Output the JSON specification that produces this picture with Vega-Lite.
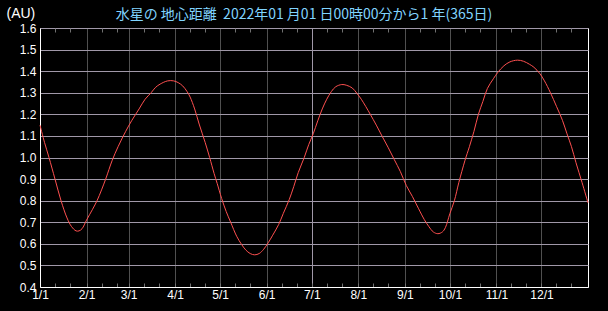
{
  "$schema": "https://vega.github.io/schema/vega-lite/v6.json",
  "width": 548,
  "height": 259,
  "autosize": {"type": "none"},
  "padding": {"left": 40, "top": 28, "right": 20, "bottom": 24},
  "background": "#000000",
  "config": {"view": {"stroke": "#ffffff", "strokeWidth": 1}},
  "title": {
    "text": "水星の 地心距離 \u00a02022年01 月01 日00時00分から1 年(365日)",
    "color": "#80d4ff",
    "font": "Noto Sans CJK JP",
    "fontSize": 14,
    "fontWeight": "normal",
    "anchor": "middle",
    "frame": "group",
    "dx": -10,
    "offset": -16
  },
  "data": {"values": [
    {"date": "2022-01-01", "au": 1.15},
    {"date": "2022-01-04", "au": 1.07},
    {"date": "2022-01-07", "au": 1.00},
    {"date": "2022-01-11", "au": 0.90},
    {"date": "2022-01-15", "au": 0.80},
    {"date": "2022-01-19", "au": 0.72},
    {"date": "2022-01-22", "au": 0.68},
    {"date": "2022-01-25", "au": 0.66},
    {"date": "2022-01-27", "au": 0.66},
    {"date": "2022-01-29", "au": 0.67},
    {"date": "2022-02-01", "au": 0.71},
    {"date": "2022-02-05", "au": 0.76},
    {"date": "2022-02-08", "au": 0.80},
    {"date": "2022-02-11", "au": 0.85},
    {"date": "2022-02-14", "au": 0.905},
    {"date": "2022-02-18", "au": 0.985},
    {"date": "2022-02-22", "au": 1.05},
    {"date": "2022-02-27", "au": 1.12},
    {"date": "2022-03-03", "au": 1.17},
    {"date": "2022-03-08", "au": 1.225},
    {"date": "2022-03-12", "au": 1.27},
    {"date": "2022-03-16", "au": 1.30},
    {"date": "2022-03-19", "au": 1.325},
    {"date": "2022-03-22", "au": 1.34},
    {"date": "2022-03-27", "au": 1.355},
    {"date": "2022-03-31", "au": 1.355},
    {"date": "2022-04-03", "au": 1.347},
    {"date": "2022-04-06", "au": 1.332},
    {"date": "2022-04-09", "au": 1.305},
    {"date": "2022-04-11", "au": 1.28},
    {"date": "2022-04-14", "au": 1.225},
    {"date": "2022-04-17", "au": 1.155},
    {"date": "2022-04-21", "au": 1.07},
    {"date": "2022-04-24", "au": 1.0},
    {"date": "2022-04-27", "au": 0.925},
    {"date": "2022-04-29", "au": 0.88},
    {"date": "2022-05-02", "au": 0.81},
    {"date": "2022-05-05", "au": 0.75},
    {"date": "2022-05-08", "au": 0.70},
    {"date": "2022-05-12", "au": 0.635},
    {"date": "2022-05-15", "au": 0.60},
    {"date": "2022-05-18", "au": 0.572},
    {"date": "2022-05-21", "au": 0.555},
    {"date": "2022-05-24", "au": 0.549},
    {"date": "2022-05-27", "au": 0.555},
    {"date": "2022-05-30", "au": 0.575},
    {"date": "2022-06-02", "au": 0.605},
    {"date": "2022-06-05", "au": 0.64},
    {"date": "2022-06-09", "au": 0.69},
    {"date": "2022-06-12", "au": 0.74},
    {"date": "2022-06-16", "au": 0.805},
    {"date": "2022-06-19", "au": 0.865},
    {"date": "2022-06-22", "au": 0.93},
    {"date": "2022-06-26", "au": 1.00},
    {"date": "2022-06-29", "au": 1.06},
    {"date": "2022-07-02", "au": 1.11},
    {"date": "2022-07-05", "au": 1.17},
    {"date": "2022-07-08", "au": 1.225},
    {"date": "2022-07-11", "au": 1.27},
    {"date": "2022-07-14", "au": 1.305},
    {"date": "2022-07-17", "au": 1.328},
    {"date": "2022-07-21", "au": 1.338},
    {"date": "2022-07-24", "au": 1.335},
    {"date": "2022-07-28", "au": 1.322},
    {"date": "2022-07-31", "au": 1.298},
    {"date": "2022-08-03", "au": 1.27},
    {"date": "2022-08-06", "au": 1.236},
    {"date": "2022-08-09", "au": 1.20},
    {"date": "2022-08-13", "au": 1.15},
    {"date": "2022-08-17", "au": 1.097},
    {"date": "2022-08-21", "au": 1.045},
    {"date": "2022-08-25", "au": 0.99},
    {"date": "2022-08-29", "au": 0.935},
    {"date": "2022-09-02", "au": 0.87},
    {"date": "2022-09-06", "au": 0.82},
    {"date": "2022-09-10", "au": 0.765},
    {"date": "2022-09-14", "au": 0.712},
    {"date": "2022-09-17", "au": 0.68},
    {"date": "2022-09-20", "au": 0.655},
    {"date": "2022-09-23", "au": 0.647},
    {"date": "2022-09-26", "au": 0.655},
    {"date": "2022-09-28", "au": 0.675},
    {"date": "2022-10-01", "au": 0.74},
    {"date": "2022-10-04", "au": 0.80},
    {"date": "2022-10-07", "au": 0.885},
    {"date": "2022-10-11", "au": 0.985},
    {"date": "2022-10-14", "au": 1.05},
    {"date": "2022-10-17", "au": 1.12},
    {"date": "2022-10-20", "au": 1.20},
    {"date": "2022-10-23", "au": 1.26},
    {"date": "2022-10-26", "au": 1.32},
    {"date": "2022-10-30", "au": 1.365},
    {"date": "2022-11-02", "au": 1.395},
    {"date": "2022-11-06", "au": 1.425},
    {"date": "2022-11-10", "au": 1.443},
    {"date": "2022-11-15", "au": 1.451},
    {"date": "2022-11-19", "au": 1.446},
    {"date": "2022-11-23", "au": 1.432},
    {"date": "2022-11-26", "au": 1.418},
    {"date": "2022-11-30", "au": 1.388},
    {"date": "2022-12-03", "au": 1.355},
    {"date": "2022-12-07", "au": 1.30},
    {"date": "2022-12-11", "au": 1.237},
    {"date": "2022-12-15", "au": 1.172},
    {"date": "2022-12-18", "au": 1.11},
    {"date": "2022-12-21", "au": 1.05},
    {"date": "2022-12-24", "au": 0.976},
    {"date": "2022-12-28", "au": 0.885},
    {"date": "2023-01-01", "au": 0.79}
  ]},
  "encoding": {
    "y": {
      "field": "au",
      "type": "quantitative",
      "scale": {"domain": [0.4, 1.6], "nice": false, "zero": false},
      "axis": {
        "values": [0.4, 0.5, 0.6, 0.7, 0.8, 0.9, 1.0, 1.1, 1.2, 1.3, 1.4, 1.5, 1.6],
        "format": ".1f",
        "labelColor": "#ffffff",
        "labelFont": "Liberation Sans",
        "labelFontSize": 12,
        "labelPadding": 4,
        "labelFlush": false,
        "labelOverlap": false,
        "ticks": false,
        "grid": true,
        "gridColor": "#a098a8",
        "domainColor": "#ffffff",
        "title": "(AU)",
        "titleAngle": 0,
        "titleX": -34,
        "titleY": -15,
        "titleAlign": "left",
        "titleBaseline": "middle",
        "titleColor": "#ffffff",
        "titleFont": "Liberation Sans",
        "titleFontSize": 14,
        "titleFontWeight": "normal"
      }
    }
  },
  "layer": [
    {
      "mark": {"type": "line", "color": "#ff5050", "strokeWidth": 1, "interpolate": "catmull-rom"},
      "encoding": {
        "x": {
          "field": "date",
          "type": "temporal",
          "scale": {"type": "utc", "domain": [{"year": 2022, "month": 1, "date": 1, "utc": true}, {"year": 2023, "month": 1, "date": 1, "utc": true}]},
          "axis": {
            "orient": "bottom",
            "title": null,
            "values": [
              {"year": 2022, "month": 1, "date": 1, "utc": true}, {"year": 2022, "month": 1, "date": 11, "utc": true}, {"year": 2022, "month": 1, "date": 21, "utc": true},
              {"year": 2022, "month": 2, "date": 1, "utc": true}, {"year": 2022, "month": 2, "date": 11, "utc": true}, {"year": 2022, "month": 2, "date": 21, "utc": true},
              {"year": 2022, "month": 3, "date": 1, "utc": true}, {"year": 2022, "month": 3, "date": 11, "utc": true}, {"year": 2022, "month": 3, "date": 21, "utc": true},
              {"year": 2022, "month": 4, "date": 1, "utc": true}, {"year": 2022, "month": 4, "date": 11, "utc": true}, {"year": 2022, "month": 4, "date": 21, "utc": true},
              {"year": 2022, "month": 5, "date": 1, "utc": true}, {"year": 2022, "month": 5, "date": 11, "utc": true}, {"year": 2022, "month": 5, "date": 21, "utc": true},
              {"year": 2022, "month": 6, "date": 1, "utc": true}, {"year": 2022, "month": 6, "date": 11, "utc": true}, {"year": 2022, "month": 6, "date": 21, "utc": true},
              {"year": 2022, "month": 7, "date": 1, "utc": true}, {"year": 2022, "month": 7, "date": 11, "utc": true}, {"year": 2022, "month": 7, "date": 21, "utc": true},
              {"year": 2022, "month": 8, "date": 1, "utc": true}, {"year": 2022, "month": 8, "date": 11, "utc": true}, {"year": 2022, "month": 8, "date": 21, "utc": true},
              {"year": 2022, "month": 9, "date": 1, "utc": true}, {"year": 2022, "month": 9, "date": 11, "utc": true}, {"year": 2022, "month": 9, "date": 21, "utc": true},
              {"year": 2022, "month": 10, "date": 1, "utc": true}, {"year": 2022, "month": 10, "date": 11, "utc": true}, {"year": 2022, "month": 10, "date": 21, "utc": true},
              {"year": 2022, "month": 11, "date": 1, "utc": true}, {"year": 2022, "month": 11, "date": 11, "utc": true}, {"year": 2022, "month": 11, "date": 21, "utc": true},
              {"year": 2022, "month": 12, "date": 1, "utc": true}, {"year": 2022, "month": 12, "date": 11, "utc": true}, {"year": 2022, "month": 12, "date": 21, "utc": true}
            ],
            "labelExpr": "utcdate(datum.value) == 1 ? utcFormat(datum.value, '%-m/%-d') : ''",
            "labelColor": "#ffffff",
            "labelFont": "Liberation Sans",
            "labelFontSize": 12,
            "labelPadding": 6,
            "labelFlush": false,
            "labelOverlap": false,
            "tickSize": -4,
            "tickColor": "#707070",
            "domainColor": "#ffffff",
            "grid": true,
            "gridColor": "#505050",
            "gridOpacity": {"condition": {"test": "utcdate(datum.value) == 1 && utcmonth(datum.value) != 6", "value": 1}, "value": 0}
          }
        }
      }
    },
    {
      "mark": {"type": "line", "opacity": 0},
      "encoding": {
        "x": {
          "field": "date",
          "type": "temporal",
          "axis": {
            "orient": "top",
            "title": null,
            "values": [
              {"year": 2022, "month": 1, "date": 11, "utc": true}, {"year": 2022, "month": 1, "date": 21, "utc": true},
              {"year": 2022, "month": 2, "date": 11, "utc": true}, {"year": 2022, "month": 2, "date": 21, "utc": true},
              {"year": 2022, "month": 3, "date": 11, "utc": true}, {"year": 2022, "month": 3, "date": 21, "utc": true},
              {"year": 2022, "month": 4, "date": 11, "utc": true}, {"year": 2022, "month": 4, "date": 21, "utc": true},
              {"year": 2022, "month": 5, "date": 11, "utc": true}, {"year": 2022, "month": 5, "date": 21, "utc": true},
              {"year": 2022, "month": 6, "date": 11, "utc": true}, {"year": 2022, "month": 6, "date": 21, "utc": true},
              {"year": 2022, "month": 7, "date": 1, "utc": true},
              {"year": 2022, "month": 7, "date": 11, "utc": true}, {"year": 2022, "month": 7, "date": 21, "utc": true},
              {"year": 2022, "month": 8, "date": 11, "utc": true}, {"year": 2022, "month": 8, "date": 21, "utc": true},
              {"year": 2022, "month": 9, "date": 11, "utc": true}, {"year": 2022, "month": 9, "date": 21, "utc": true},
              {"year": 2022, "month": 10, "date": 11, "utc": true}, {"year": 2022, "month": 10, "date": 21, "utc": true},
              {"year": 2022, "month": 11, "date": 11, "utc": true}, {"year": 2022, "month": 11, "date": 21, "utc": true},
              {"year": 2022, "month": 12, "date": 11, "utc": true}, {"year": 2022, "month": 12, "date": 21, "utc": true}
            ],
            "labels": false,
            "domain": false,
            "grid": true,
            "gridColor": "#a098a8",
            "gridOpacity": {"condition": {"test": "utcdate(datum.value) == 1", "value": 1}, "value": 0},
            "tickSize": -4,
            "tickColor": "#707070",
            "tickOpacity": {"condition": {"test": "utcdate(datum.value) == 1", "value": 0}, "value": 1}
          }
        }
      }
    }
  ],
  "resolve": {"axis": {"x": "independent"}}
}
